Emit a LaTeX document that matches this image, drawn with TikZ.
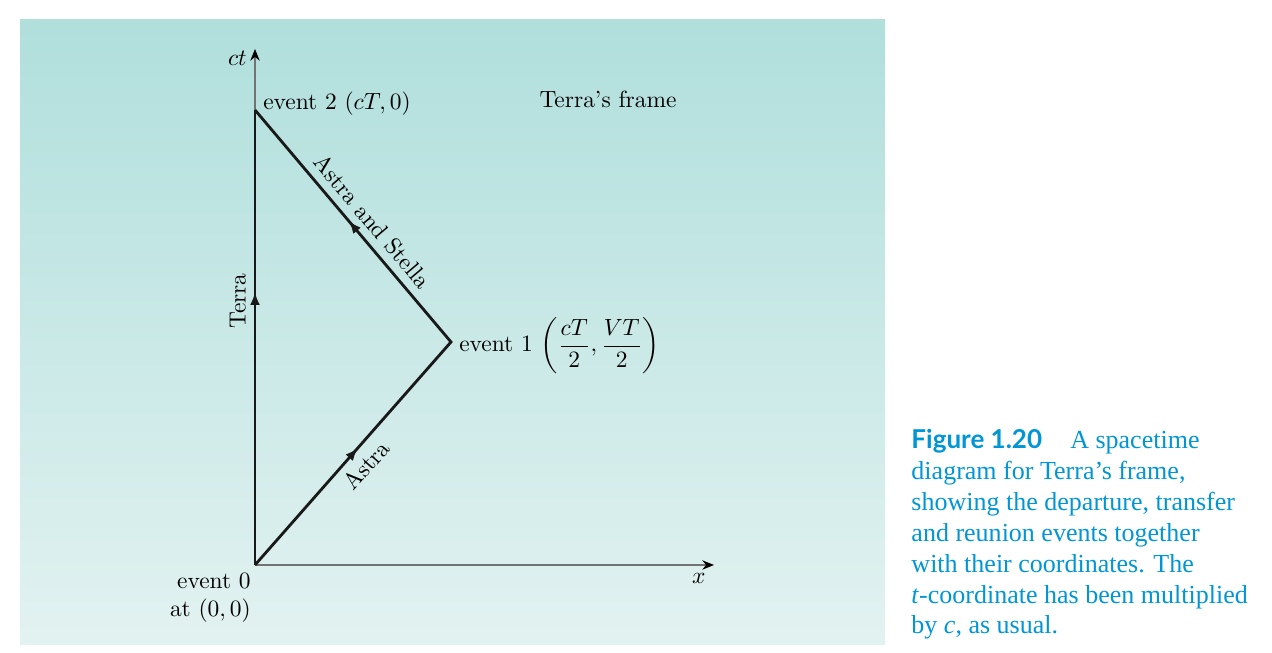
\documentclass[tikz,border=0pt]{standalone}
\usepackage{amsmath}
\usepackage{fontspec}
\usetikzlibrary{arrows.meta,decorations.markings}
\newfontfamily\capfont{Liberation Serif}
\newfontfamily\capsans{Lato}
\definecolor{captionblue}{RGB}{0,150,214}
\definecolor{paneltop}{RGB}{176,223,220}
\definecolor{panelbottom}{RGB}{226,242,241}

\begin{document}
\begin{tikzpicture}[x=0.015cm,y=0.015cm,
        axis/.style={draw=black!55,line width=0.5pt,-{Stealth[length=5pt,width=4pt,black]}},
        world/.style={draw=black!90,line width=1.2pt},
        tip at/.style={postaction={decorate,decoration={markings,
            mark=at position #1 with {\arrow{Latex[length=5.5pt,width=4.2pt]}}}}}]

\useasboundingbox (0,0) rectangle (1272,653);
\shade[top color=paneltop,bottom color=panelbottom] (20,8) rectangle (885,633);

\coordinate (e0) at (255,88);
\coordinate (e1) at (451,311);
\coordinate (e2) at (255,543);
\coordinate (ctend) at (255,604);
\coordinate (xend) at (714,88);

% axes
\draw[axis] (e0) -- (ctend) node[left,yshift=-4pt] {$ct$};
\draw[axis] (e0) -- (xend) node[below left] {$x$};

% world lines
\draw[world,tip at=0.6] (e0) -- node[pos=0.58,rotate=90,anchor=south] {Terra} (e2);
\draw[world,tip at=0.26,tip at=0.76] (e0) -- node[sloped,below] {Astra} (e1)
    -- node[sloped,above,pos=0.47] {Astra and Stella} (e2);

\node[anchor=base west] (ev2) at (e2) {event 2 $(cT,0)$};
\node[right,yshift=-1.7pt] (ev1) at (e1) {event 1 $\left(\dfrac{cT}{2},\dfrac{VT}{2}\right)$};
\node[below left,align=right,xshift=1.7pt] (ev0) at (e0) {event 0\\at $(0,0)$};
\node[anchor=base] (frame) at (608,545) {Terra's frame};

\node[anchor=base west,align=left,inner sep=0pt,text=captionblue,
    font=\capfont\fontsize{11.1}{13.2}\selectfont] (caption) at (911,19)
    {{\capsans\bfseries Figure 1.20}\hspace{12pt}A spacetime\\
     diagram for Terra’s frame,\\
     showing the departure, transfer\\
     and reunion events together\\
     with their coordinates. The\\
     \textit{t}-coordinate has been multiplied\\
     by \textit{c}, as usual.};
\end{tikzpicture}
\end{document}
